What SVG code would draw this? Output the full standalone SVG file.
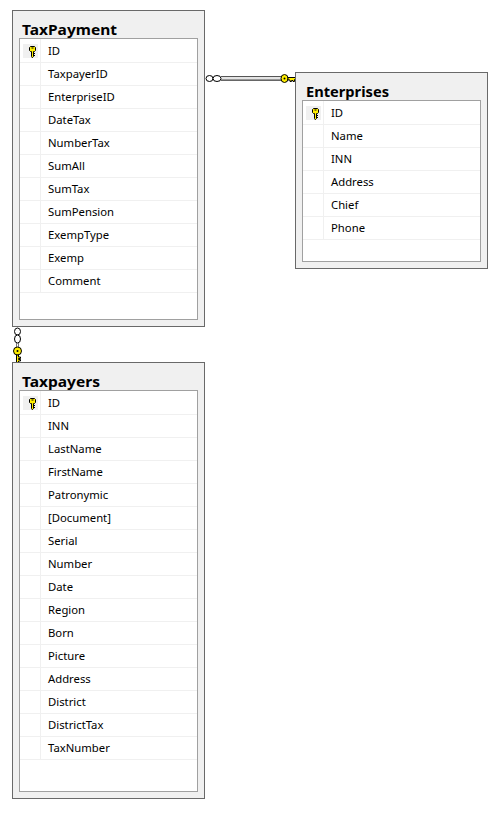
<svg xmlns="http://www.w3.org/2000/svg" xmlns:xlink="http://www.w3.org/1999/xlink" width="502" height="813" viewBox="0 0 502 813">
<style>
.outer{fill:#f0f0f0;stroke:#696969;stroke-width:1}
.inner{fill:#fff;stroke:#a0a0a0;stroke-width:1}
.sep{stroke:#f0f0f0;stroke-width:1;fill:none}
.title{font-family:"Noto Sans","Open Sans",sans-serif;font-size:15px;font-weight:700;fill:#000}
.f{font-family:"Noto Sans","Open Sans",sans-serif;font-size:11.3px;fill:#000}
.keybg{fill:#f0f0f0}
.key{fill:#ffee00;stroke:#000;stroke-width:1}
.ring{fill:#fff;stroke:#000;stroke-width:1}
</style>
<defs>
<g id="key">
<rect class="keybg" x="-10" y="-7" width="15" height="14"/>
<path class="key" d="M-2.500-4.500H1.500L2.500-3.500V-.500L1.500.500H.5V5.500L-.5 6.500H-1L-1.500 5.500V.500H-2.500L-3.500-.500V-3.500Z"/>
<rect x="-1.500" y="-3.500" width="2" height="1" fill="#000"/>
<path d="M1 2.500H2M1 4.500H2" stroke="#000" stroke-width="1" fill="none"/>
</g>
</defs>
<g id="connectors">
<g id="rel-enterprise">
<path d="M221 76.500H282" stroke="#555" stroke-width="1" fill="none"/>
<path d="M221 78H282" stroke="#e4e4e4" stroke-width="2" fill="none"/>
<path d="M221 79.500H282" stroke="#999" stroke-width="1" fill="none"/>
<path d="M221 80.500H282" stroke="#666" stroke-width="1" fill="none"/>
<ellipse class="ring" cx="209.500" cy="78.500" rx="3.500" ry="3"/>
<ellipse class="ring" cx="217" cy="78.500" rx="4" ry="3"/>
<ellipse class="key" cx="284.500" cy="78.500" rx="3.500" ry="4"/>
<circle cx="284.500" cy="78.500" r="1" fill="#000"/>
<path class="key" d="M288 77.500H296V79.500H294.500V81.500H293V80.500H291.500V81.500H290V80H288Z" stroke-width=".7"/>
</g>
<g id="rel-taxpayer">
<ellipse class="ring" cx="17.500" cy="331.500" rx="3" ry="3.500"/>
<ellipse class="ring" cx="17.500" cy="339" rx="3" ry="4"/>
<path d="M16.500 343V347M18.500 343V347" stroke="#777" stroke-width="1" fill="none"/>
<ellipse class="key" cx="17.500" cy="351" rx="4" ry="4"/>
<circle cx="17.500" cy="351" r="1" fill="#000"/>
<path class="key" d="M16.500 355V362.500H18.500V361H20.500V359.500H18.500V358.500H20.500V357H18.500V355Z" stroke-width=".7"/>
</g>
</g>
<g id="TaxPayment">
<rect class="outer" x="12.500" y="10.500" width="192" height="316"/>
<text class="title" x="22" y="35" textLength="95" lengthAdjust="spacingAndGlyphs">TaxPayment</text>
<rect class="inner" x="19.500" y="38.500" width="178" height="281"/>
<path class="sep" d="M20 62.500H197M20 85.500H197M20 108.500H197M20 131.500H197M20 154.500H197M20 177.500H197M20 200.500H197M20 223.500H197M20 246.500H197M20 269.500H197M20 292.500H197M40.500 39V292"/>
<use xlink:href="#key" href="#key" x="33" y="51"/>
<text class="f" x="48" y="55">ID</text>
<text class="f" x="48" y="78">TaxpayerID</text>
<text class="f" x="48" y="101">EnterpriseID</text>
<text class="f" x="48" y="124">DateTax</text>
<text class="f" x="48" y="147">NumberTax</text>
<text class="f" x="48" y="170">SumAll</text>
<text class="f" x="48" y="193">SumTax</text>
<text class="f" x="48" y="216">SumPension</text>
<text class="f" x="48" y="239">ExempType</text>
<text class="f" x="48" y="262">Exemp</text>
<text class="f" x="48" y="285">Comment</text>
</g>
<g id="Enterprises">
<rect class="outer" x="295.500" y="72.500" width="192" height="196"/>
<text class="title" x="306" y="97" textLength="83" lengthAdjust="spacingAndGlyphs">Enterprises</text>
<rect class="inner" x="302.500" y="100.500" width="178" height="161"/>
<path class="sep" d="M303 124.500H480M303 147.500H480M303 170.500H480M303 193.500H480M303 216.500H480M303 239.500H480M323.500 101V239"/>
<use xlink:href="#key" href="#key" x="316" y="113"/>
<text class="f" x="331" y="117">ID</text>
<text class="f" x="331" y="140">Name</text>
<text class="f" x="331" y="163">INN</text>
<text class="f" x="331" y="186">Address</text>
<text class="f" x="331" y="209">Chief</text>
<text class="f" x="331" y="232">Phone</text>
</g>
<g id="Taxpayers">
<rect class="outer" x="12.500" y="362.500" width="192" height="436"/>
<text class="title" x="22" y="387" textLength="78" lengthAdjust="spacingAndGlyphs">Taxpayers</text>
<rect class="inner" x="19.500" y="390.500" width="178" height="401"/>
<path class="sep" d="M20 414.500H197M20 437.500H197M20 460.500H197M20 483.500H197M20 506.500H197M20 529.500H197M20 552.500H197M20 575.500H197M20 598.500H197M20 621.500H197M20 644.500H197M20 667.500H197M20 690.500H197M20 713.500H197M20 736.500H197M20 759.500H197M40.500 391V759"/>
<use xlink:href="#key" href="#key" x="33" y="403"/>
<text class="f" x="48" y="407">ID</text>
<text class="f" x="48" y="430">INN</text>
<text class="f" x="48" y="453">LastName</text>
<text class="f" x="48" y="476">FirstName</text>
<text class="f" x="48" y="499">Patronymic</text>
<text class="f" x="48" y="522">[Document]</text>
<text class="f" x="48" y="545">Serial</text>
<text class="f" x="48" y="568">Number</text>
<text class="f" x="48" y="591">Date</text>
<text class="f" x="48" y="614">Region</text>
<text class="f" x="48" y="637">Born</text>
<text class="f" x="48" y="660">Picture</text>
<text class="f" x="48" y="683">Address</text>
<text class="f" x="48" y="706">District</text>
<text class="f" x="48" y="729">DistrictTax</text>
<text class="f" x="48" y="752">TaxNumber</text>
</g>
</svg>
